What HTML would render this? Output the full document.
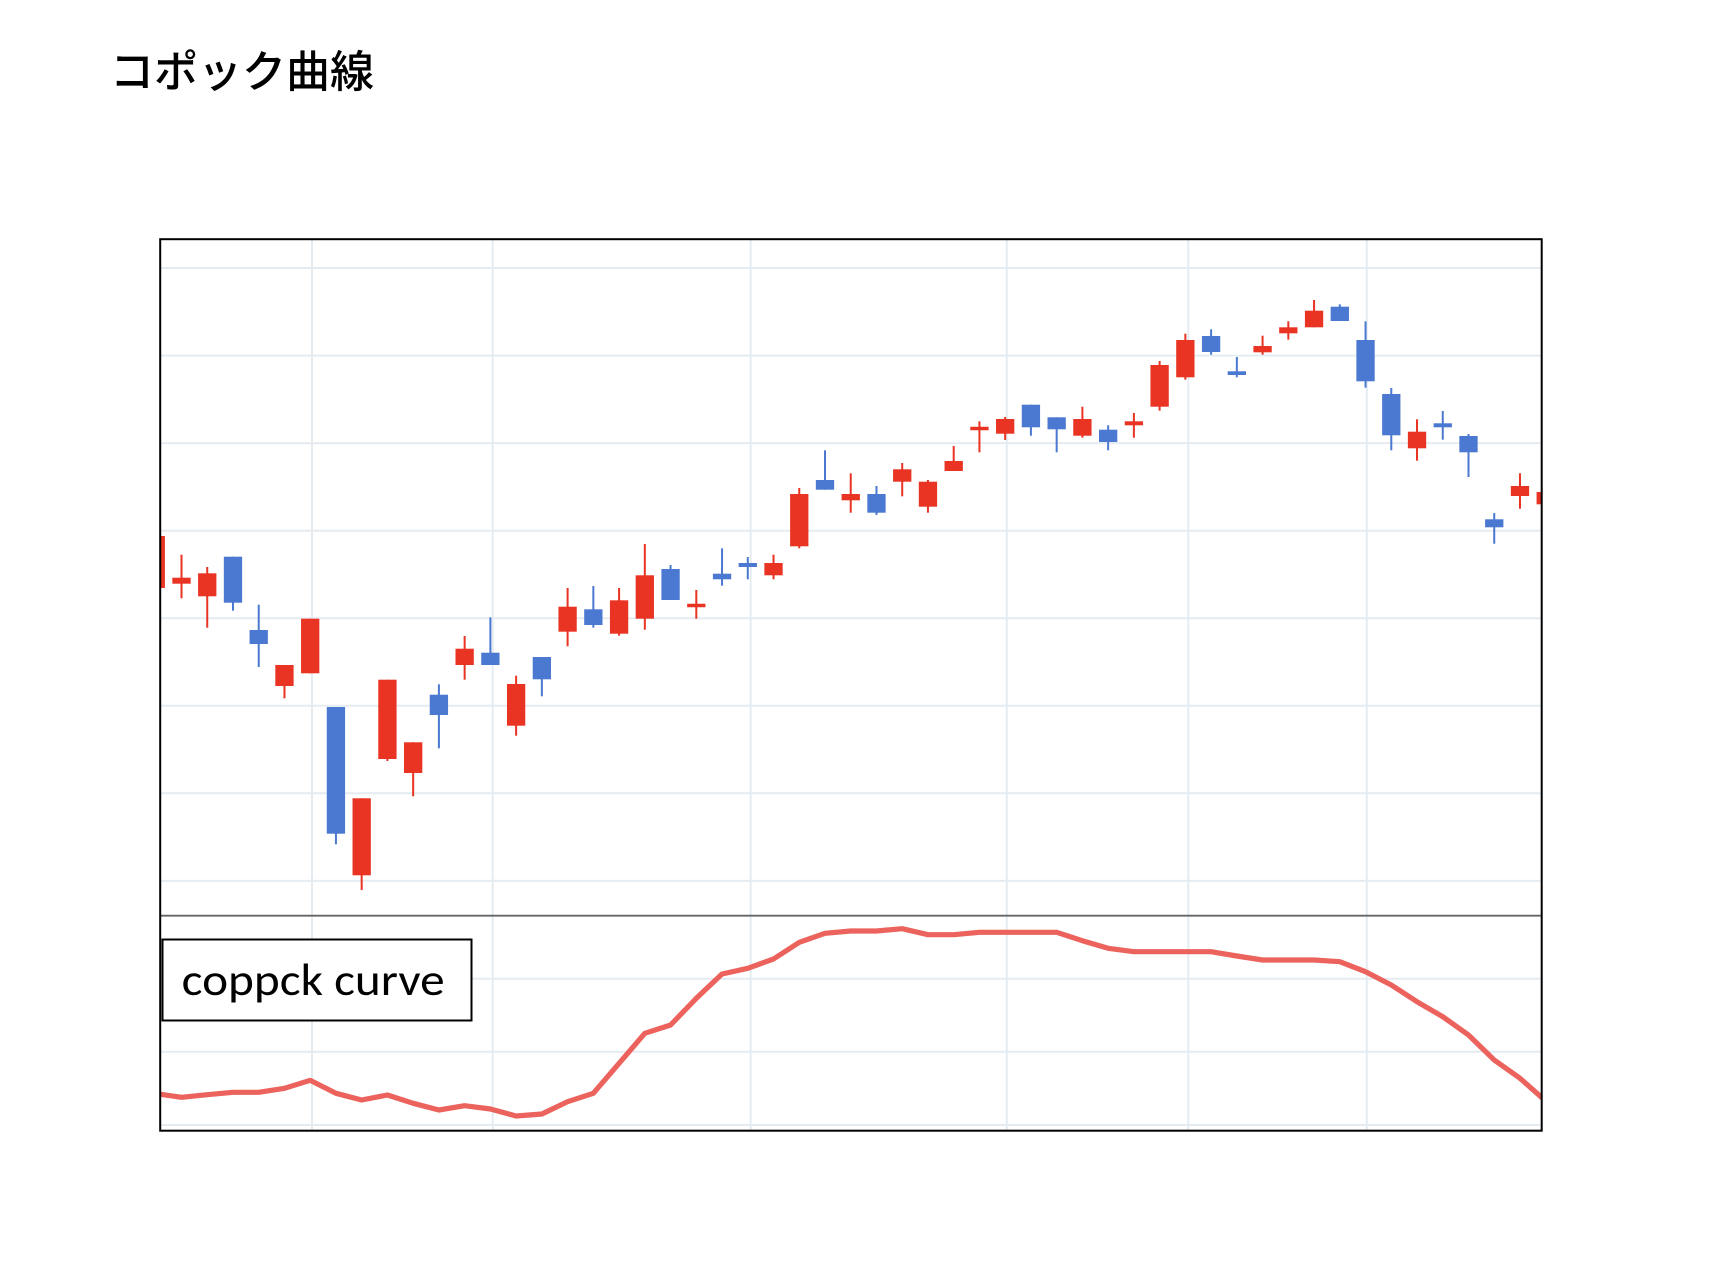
<!DOCTYPE html>
<html>
<head>
<meta charset="utf-8">
<style>
html,body{margin:0;padding:0;background:#fff;}
svg{display:block;}
</style>
</head>
<body>
<svg width="1712" height="1262" viewBox="0 0 1712 1262" xmlns="http://www.w3.org/2000/svg">
<rect x="0" y="0" width="1712" height="1262" fill="#fff"/>
<text x="110" y="87" font-family="'Liberation Sans','Noto Sans CJK JP',sans-serif" font-size="44" font-weight="500" fill="#000">コポック曲線</text>
<defs>
<clipPath id="pa"><rect x="161" y="240" width="1380" height="675"/></clipPath>
<clipPath id="pb"><rect x="161" y="917" width="1380" height="213"/></clipPath>
</defs>
<g stroke="#e4ecf1" stroke-width="2" fill="none">
<line x1="161" y1="268" x2="1541" y2="268"/>
<line x1="161" y1="355.6" x2="1541" y2="355.6"/>
<line x1="161" y1="443.1" x2="1541" y2="443.1"/>
<line x1="161" y1="530.7" x2="1541" y2="530.7"/>
<line x1="161" y1="618.2" x2="1541" y2="618.2"/>
<line x1="161" y1="705.8" x2="1541" y2="705.8"/>
<line x1="161" y1="793.3" x2="1541" y2="793.3"/>
<line x1="161" y1="880.9" x2="1541" y2="880.9"/>
<line x1="161" y1="978.7" x2="1541" y2="978.7"/>
<line x1="161" y1="1051.7" x2="1541" y2="1051.7"/>
<line x1="161" y1="1125" x2="1541" y2="1125"/>
<line x1="312" y1="240" x2="312" y2="1130"/>
<line x1="492.7" y1="240" x2="492.7" y2="1130"/>
<line x1="750.7" y1="240" x2="750.7" y2="1130"/>
<line x1="1006.8" y1="240" x2="1006.8" y2="1130"/>
<line x1="1188.3" y1="240" x2="1188.3" y2="1130"/>
<line x1="1366.8" y1="240" x2="1366.8" y2="1130"/>
</g>
<g id="candles" clip-path="url(#pa)"></g>
<line x1="161" y1="915.7" x2="1541" y2="915.7" stroke="#666" stroke-width="1.8"/>
<g clip-path="url(#pb)">
<polyline fill="none" stroke="#ec625c" stroke-width="5.2" stroke-linejoin="round" points="155.8,1093.6 181.5,1097.3 207.2,1094.7 233,1092.3 258.7,1092.3 284.5,1088.3 310.2,1080.3 336,1093.3 361.7,1100 387.4,1095 413.2,1103.3 438.9,1110 464.6,1105.7 490.4,1109 516.1,1116 541.9,1114 567.6,1101.7 593.3,1093.3 619.1,1063.3 644.8,1033.3 670.6,1025 696.3,998.3 722,974 747.8,968.3 773.5,959 799.3,942.3 825,933.3 850.7,931 876.5,931 902.2,928.7 928,934.7 953.7,934.7 979.4,932.3 1005.2,932.3 1031,932.3 1056.7,932.3 1082.4,940.7 1108.1,948.3 1133.9,951.7 1159.6,951.7 1185.4,951.7 1211.1,951.7 1236.8,956 1262.6,960 1288.3,960 1314.1,960 1339.8,961.7 1365.5,971.7 1391.3,985 1417,1001.7 1442.8,1016.7 1468.5,1035 1494.2,1060 1520,1078.3 1545.7,1101"/>
</g>
<rect x="162.5" y="939.5" width="309" height="81" fill="#fff" stroke="#000" stroke-width="2"/>
<text x="181.7" y="995" font-family="Carlito,'Liberation Sans',sans-serif" font-size="45" fill="#000" textLength="263" lengthAdjust="spacingAndGlyphs">coppck curve</text>
<rect x="160.2" y="239.2" width="1381.5" height="891.5" fill="none" stroke="#000" stroke-width="2"/>
<script>
(function(){
var R="#e93323",B="#4b78d0";
var d=[
[1,R,536,588,536,588],[2,R,577.7,583.7,554.7,598.3],[3,R,573.3,596.3,567,627.7],[4,B,556.7,602.7,556.7,610.7],
[5,B,630,644,604.7,667],[6,R,665,686,665,698.3],[7,R,618.7,673.3,618.7,673.3],[8,B,707,833.7,707,844.3],
[9,R,798.3,875.3,798.3,890],[10,R,679.7,759,679.7,761],[11,R,742.3,773,742.3,796.3],[12,B,694.7,715,684.3,748.3],
[13,R,648.7,665,636,679.7],[14,B,652.7,665,617.3,665],[15,R,684,725.7,675.7,735.7],[16,B,657,679.3,657,696.3],
[17,R,606.7,631.7,588,646.3],[18,B,609.3,625,586,627.7],[19,R,600.3,633.7,588,635.7],[20,R,575.3,618.7,544,629.7],
[21,B,569,600,565,600],[22,R,604.3,606.7,590,618.7],[23,B,573.7,579.3,548.3,585.7],[24,B,563,567,557,579.3],
[25,R,563,575.3,554.7,579.3],[26,R,494,546.3,488,548.3],[27,B,480,489.7,450.3,489.7],[28,R,494,500.3,473.3,512.7],
[29,B,494,512.7,486,515],[30,R,469.3,481.7,463,496.3],[31,R,481.7,506.7,480,512.7],[32,R,461,471,446,471],
[33,R,427.3,429.7,421.3,452.3],[34,R,419,433.7,417,440],[35,B,404.7,427.3,404.7,435.7],[36,B,417.3,429.3,417.3,452.3],
[37,R,419,435.7,406.7,437.7],[38,B,429.7,442,425.3,450.3],[39,R,421.3,425.3,413,437.7],[40,R,365,406.7,361,410.7],
[41,R,340,377.3,333.7,379.7],[42,B,336,352,329.3,354.7],[43,B,371.3,375,357,377.3],[44,R,346,352.3,335.7,354.7],
[45,R,327.3,333.3,321.3,339.7],[46,R,310.7,327.3,300,327.3],[47,B,306.7,321,304.3,321],[48,B,340,381.3,321.3,387.7],
[49,B,394,435.3,388,450.3],[50,R,431.7,448.3,419.3,460.7],[51,B,423.3,427.3,411,439.7],[52,B,436,452.3,434,477],
[53,B,519.3,527.3,513,543.7],[54,R,486,496,473.3,508.7],[55,R,492,504.3,492,504.3]
];
var g=document.getElementById("candles"),ns="http://www.w3.org/2000/svg";
d.forEach(function(c){
var cx=130.02+25.74*c[0];
var w=document.createElementNS(ns,"rect");
w.setAttribute("x",cx-1);w.setAttribute("y",c[4]);w.setAttribute("width",2);w.setAttribute("height",Math.max(c[5]-c[4],1));w.setAttribute("fill",c[1]);
g.appendChild(w);
var h=Math.max(c[3]-c[2],3.5);
var b=document.createElementNS(ns,"rect");
b.setAttribute("x",cx-9.15);b.setAttribute("y",(c[2]+c[3])/2-h/2);b.setAttribute("width",18.3);b.setAttribute("height",h);b.setAttribute("fill",c[1]);
g.appendChild(b);
});
})();
</script>
</svg>
</body>
</html>
